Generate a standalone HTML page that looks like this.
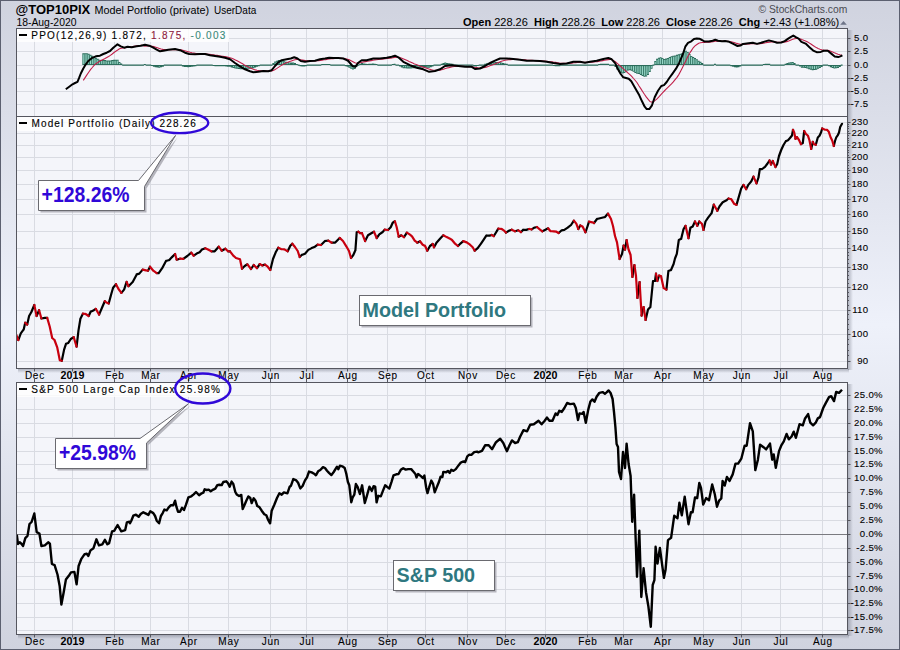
<!DOCTYPE html><html><head><meta charset="utf-8"><style>
html,body{margin:0;padding:0}
body{width:900px;height:650px;overflow:hidden;background:linear-gradient(to bottom,#D0D3DF 0%,#EEF1FA 50%,#D0D3DF 100%);font-family:"Liberation Sans",sans-serif;position:relative}
#fr{position:absolute;left:0;top:0;width:898px;height:648px;border:1px solid #5C6070}
svg{position:absolute;left:0;top:0}
svg text{font-family:"Liberation Sans",sans-serif;white-space:pre}
</style></head><body><div id="fr"></div>
<svg width="900" height="650" viewBox="0 0 900 650">
<defs><clipPath id="c2"><rect x="17" y="117" width="830" height="251"/></clipPath><clipPath id="c3"><rect x="17" y="383" width="830" height="251"/></clipPath><linearGradient id="shR" x1="0" x2="1" y1="0" y2="0"><stop offset="0" stop-color="#7E8290" stop-opacity="0.55"/><stop offset="1" stop-color="#7E8290" stop-opacity="0"/></linearGradient>
<linearGradient id="shB" x1="0" x2="0" y1="0" y2="1"><stop offset="0" stop-color="#7E8290" stop-opacity="0.55"/><stop offset="1" stop-color="#7E8290" stop-opacity="0"/></linearGradient></defs>
<rect x="16.5" y="28.5" width="831" height="88" fill="#F4F5FA"/><rect x="16.5" y="116.5" width="831" height="252" fill="#F4F5FA"/><rect x="16.5" y="382.5" width="831" height="252" fill="#F4F5FA"/><line x1="34.5" y1="28" x2="34.5" y2="116" stroke="#D9DBE2"/><line x1="34.5" y1="116" x2="34.5" y2="368" stroke="#D9DBE2"/><line x1="34.5" y1="382" x2="34.5" y2="634" stroke="#D9DBE2"/><line x1="72.5" y1="28" x2="72.5" y2="116" stroke="#D9DBE2"/><line x1="72.5" y1="116" x2="72.5" y2="368" stroke="#D9DBE2"/><line x1="72.5" y1="382" x2="72.5" y2="634" stroke="#D9DBE2"/><line x1="114.5" y1="28" x2="114.5" y2="116" stroke="#D9DBE2"/><line x1="114.5" y1="116" x2="114.5" y2="368" stroke="#D9DBE2"/><line x1="114.5" y1="382" x2="114.5" y2="634" stroke="#D9DBE2"/><line x1="150.5" y1="28" x2="150.5" y2="116" stroke="#D9DBE2"/><line x1="150.5" y1="116" x2="150.5" y2="368" stroke="#D9DBE2"/><line x1="150.5" y1="382" x2="150.5" y2="634" stroke="#D9DBE2"/><line x1="188.5" y1="28" x2="188.5" y2="116" stroke="#D9DBE2"/><line x1="188.5" y1="116" x2="188.5" y2="368" stroke="#D9DBE2"/><line x1="188.5" y1="382" x2="188.5" y2="634" stroke="#D9DBE2"/><line x1="228.5" y1="28" x2="228.5" y2="116" stroke="#D9DBE2"/><line x1="228.5" y1="116" x2="228.5" y2="368" stroke="#D9DBE2"/><line x1="228.5" y1="382" x2="228.5" y2="634" stroke="#D9DBE2"/><line x1="270.5" y1="28" x2="270.5" y2="116" stroke="#D9DBE2"/><line x1="270.5" y1="116" x2="270.5" y2="368" stroke="#D9DBE2"/><line x1="270.5" y1="382" x2="270.5" y2="634" stroke="#D9DBE2"/><line x1="306.5" y1="28" x2="306.5" y2="116" stroke="#D9DBE2"/><line x1="306.5" y1="116" x2="306.5" y2="368" stroke="#D9DBE2"/><line x1="306.5" y1="382" x2="306.5" y2="634" stroke="#D9DBE2"/><line x1="347.5" y1="28" x2="347.5" y2="116" stroke="#D9DBE2"/><line x1="347.5" y1="116" x2="347.5" y2="368" stroke="#D9DBE2"/><line x1="347.5" y1="382" x2="347.5" y2="634" stroke="#D9DBE2"/><line x1="387.5" y1="28" x2="387.5" y2="116" stroke="#D9DBE2"/><line x1="387.5" y1="116" x2="387.5" y2="368" stroke="#D9DBE2"/><line x1="387.5" y1="382" x2="387.5" y2="634" stroke="#D9DBE2"/><line x1="425.5" y1="28" x2="425.5" y2="116" stroke="#D9DBE2"/><line x1="425.5" y1="116" x2="425.5" y2="368" stroke="#D9DBE2"/><line x1="425.5" y1="382" x2="425.5" y2="634" stroke="#D9DBE2"/><line x1="467.5" y1="28" x2="467.5" y2="116" stroke="#D9DBE2"/><line x1="467.5" y1="116" x2="467.5" y2="368" stroke="#D9DBE2"/><line x1="467.5" y1="382" x2="467.5" y2="634" stroke="#D9DBE2"/><line x1="505.5" y1="28" x2="505.5" y2="116" stroke="#D9DBE2"/><line x1="505.5" y1="116" x2="505.5" y2="368" stroke="#D9DBE2"/><line x1="505.5" y1="382" x2="505.5" y2="634" stroke="#D9DBE2"/><line x1="545.5" y1="28" x2="545.5" y2="116" stroke="#D9DBE2"/><line x1="545.5" y1="116" x2="545.5" y2="368" stroke="#D9DBE2"/><line x1="545.5" y1="382" x2="545.5" y2="634" stroke="#D9DBE2"/><line x1="587.5" y1="28" x2="587.5" y2="116" stroke="#D9DBE2"/><line x1="587.5" y1="116" x2="587.5" y2="368" stroke="#D9DBE2"/><line x1="587.5" y1="382" x2="587.5" y2="634" stroke="#D9DBE2"/><line x1="623.5" y1="28" x2="623.5" y2="116" stroke="#D9DBE2"/><line x1="623.5" y1="116" x2="623.5" y2="368" stroke="#D9DBE2"/><line x1="623.5" y1="382" x2="623.5" y2="634" stroke="#D9DBE2"/><line x1="662.5" y1="28" x2="662.5" y2="116" stroke="#D9DBE2"/><line x1="662.5" y1="116" x2="662.5" y2="368" stroke="#D9DBE2"/><line x1="662.5" y1="382" x2="662.5" y2="634" stroke="#D9DBE2"/><line x1="703.5" y1="28" x2="703.5" y2="116" stroke="#D9DBE2"/><line x1="703.5" y1="116" x2="703.5" y2="368" stroke="#D9DBE2"/><line x1="703.5" y1="382" x2="703.5" y2="634" stroke="#D9DBE2"/><line x1="741.5" y1="28" x2="741.5" y2="116" stroke="#D9DBE2"/><line x1="741.5" y1="116" x2="741.5" y2="368" stroke="#D9DBE2"/><line x1="741.5" y1="382" x2="741.5" y2="634" stroke="#D9DBE2"/><line x1="780.5" y1="28" x2="780.5" y2="116" stroke="#D9DBE2"/><line x1="780.5" y1="116" x2="780.5" y2="368" stroke="#D9DBE2"/><line x1="780.5" y1="382" x2="780.5" y2="634" stroke="#D9DBE2"/><line x1="822.5" y1="28" x2="822.5" y2="116" stroke="#D9DBE2"/><line x1="822.5" y1="116" x2="822.5" y2="368" stroke="#D9DBE2"/><line x1="822.5" y1="382" x2="822.5" y2="634" stroke="#D9DBE2"/><line x1="16" y1="38.5" x2="847" y2="38.5" stroke="#D9DBE2"/><line x1="16" y1="51.5" x2="847" y2="51.5" stroke="#D9DBE2"/><line x1="16" y1="65.5" x2="847" y2="65.5" stroke="#D9DBE2"/><line x1="16" y1="78.5" x2="847" y2="78.5" stroke="#D9DBE2"/><line x1="16" y1="91.5" x2="847" y2="91.5" stroke="#D9DBE2"/><line x1="16" y1="104.5" x2="847" y2="104.5" stroke="#D9DBE2"/><line x1="16" y1="122.5" x2="847" y2="122.5" stroke="#D9DBE2"/><line x1="16" y1="133.5" x2="847" y2="133.5" stroke="#D9DBE2"/><line x1="16" y1="145.5" x2="847" y2="145.5" stroke="#D9DBE2"/><line x1="16" y1="157.5" x2="847" y2="157.5" stroke="#D9DBE2"/><line x1="16" y1="170.5" x2="847" y2="170.5" stroke="#D9DBE2"/><line x1="16" y1="184.5" x2="847" y2="184.5" stroke="#D9DBE2"/><line x1="16" y1="199.5" x2="847" y2="199.5" stroke="#D9DBE2"/><line x1="16" y1="214.5" x2="847" y2="214.5" stroke="#D9DBE2"/><line x1="16" y1="231.5" x2="847" y2="231.5" stroke="#D9DBE2"/><line x1="16" y1="248.5" x2="847" y2="248.5" stroke="#D9DBE2"/><line x1="16" y1="267.5" x2="847" y2="267.5" stroke="#D9DBE2"/><line x1="16" y1="287.5" x2="847" y2="287.5" stroke="#D9DBE2"/><line x1="16" y1="310.5" x2="847" y2="310.5" stroke="#D9DBE2"/><line x1="16" y1="334.5" x2="847" y2="334.5" stroke="#D9DBE2"/><line x1="16" y1="361.5" x2="847" y2="361.5" stroke="#D9DBE2"/><line x1="16" y1="630.5" x2="847" y2="630.5" stroke="#D9DBE2"/><line x1="16" y1="617.5" x2="847" y2="617.5" stroke="#D9DBE2"/><line x1="16" y1="603.5" x2="847" y2="603.5" stroke="#D9DBE2"/><line x1="16" y1="589.5" x2="847" y2="589.5" stroke="#D9DBE2"/><line x1="16" y1="576.5" x2="847" y2="576.5" stroke="#D9DBE2"/><line x1="16" y1="562.5" x2="847" y2="562.5" stroke="#D9DBE2"/><line x1="16" y1="548.5" x2="847" y2="548.5" stroke="#D9DBE2"/><line x1="16" y1="534.5" x2="847" y2="534.5" stroke="#7A7A80"/><line x1="16" y1="520.5" x2="847" y2="520.5" stroke="#D9DBE2"/><line x1="16" y1="506.5" x2="847" y2="506.5" stroke="#D9DBE2"/><line x1="16" y1="492.5" x2="847" y2="492.5" stroke="#D9DBE2"/><line x1="16" y1="478.5" x2="847" y2="478.5" stroke="#D9DBE2"/><line x1="16" y1="464.5" x2="847" y2="464.5" stroke="#D9DBE2"/><line x1="16" y1="451.5" x2="847" y2="451.5" stroke="#D9DBE2"/><line x1="16" y1="437.5" x2="847" y2="437.5" stroke="#D9DBE2"/><line x1="16" y1="423.5" x2="847" y2="423.5" stroke="#D9DBE2"/><line x1="16" y1="409.5" x2="847" y2="409.5" stroke="#D9DBE2"/><line x1="16" y1="395.5" x2="847" y2="395.5" stroke="#D9DBE2"/><path d="M82.32 53.33H84.22V65.10H82.32ZM84.13 53.13H86.03V65.10H84.13ZM85.94 53.20H87.84V65.10H85.94ZM87.75 53.74H89.65V65.10H87.75ZM89.56 54.80H91.46V65.10H89.56ZM91.37 55.68H93.27V65.10H91.37ZM93.18 56.98H95.08V65.10H93.18ZM94.99 57.83H96.89V65.10H94.99ZM96.80 58.77H98.70V65.10H96.80ZM98.61 59.71H100.51V65.10H98.61ZM100.42 59.92H102.32V65.10H100.42ZM102.23 59.89H104.13V65.10H102.23ZM104.04 60.09H105.94V65.10H104.04ZM105.85 60.40H107.75V65.10H105.85ZM107.66 60.49H109.56V65.10H107.66ZM109.47 60.46H111.37V65.10H109.47ZM111.28 60.07H113.18V65.10H111.28ZM113.09 59.82H114.99V65.10H113.09ZM114.90 59.67H116.80V65.10H114.90ZM116.71 59.63H118.61V65.10H116.71ZM118.52 61.92H120.42V65.10H118.52ZM120.33 63.47H122.23V65.10H120.33ZM122.14 64.50H124.04V65.70H122.14ZM123.95 64.50H125.85V65.70H123.95ZM125.76 64.50H127.66V65.70H125.76ZM127.57 64.50H129.47V65.70H127.57ZM129.38 64.50H131.28V65.70H129.38ZM131.19 64.50H133.09V65.70H131.19ZM133.00 64.50H134.90V65.70H133.00ZM134.81 64.50H136.71V65.70H134.81ZM136.62 64.50H138.52V65.70H136.62ZM138.43 64.50H140.33V65.70H138.43ZM140.24 64.50H142.14V65.70H140.24ZM142.05 64.50H143.95V65.70H142.05ZM143.86 63.96H145.76V65.10H143.86ZM145.67 64.50H147.57V65.70H145.67ZM147.48 64.50H149.38V65.70H147.48ZM149.29 64.50H151.19V65.70H149.29ZM151.10 65.10H153.00V66.11H151.10ZM152.91 65.10H154.81V66.66H152.91ZM154.72 65.10H156.62V67.19H154.72ZM156.53 65.10H158.43V67.56H156.53ZM158.34 65.10H160.24V67.77H158.34ZM160.15 65.10H162.05V67.35H160.15ZM161.96 65.10H163.86V66.64H161.96ZM163.77 64.50H165.67V65.70H163.77ZM165.58 64.50H167.48V65.70H165.58ZM167.39 64.50H169.29V65.70H167.39ZM169.20 64.50H171.10V65.70H169.20ZM171.01 64.50H172.91V65.70H171.01ZM172.82 64.50H174.72V65.70H172.82ZM174.63 64.50H176.53V65.70H174.63ZM176.44 64.50H178.34V65.70H176.44ZM178.25 64.50H180.15V65.70H178.25ZM180.06 64.50H181.96V65.70H180.06ZM181.87 65.10H183.77V66.56H181.87ZM183.68 65.10H185.58V66.99H183.68ZM185.49 65.10H187.39V67.12H185.49ZM187.30 65.10H189.20V67.16H187.30ZM189.11 65.10H191.01V67.02H189.11ZM190.92 65.10H192.82V66.71H190.92ZM192.73 65.10H194.63V66.46H192.73ZM194.54 65.10H196.44V66.22H194.54ZM196.35 64.50H198.25V65.70H196.35ZM198.16 64.50H200.06V65.70H198.16ZM199.97 64.50H201.87V65.70H199.97ZM201.78 64.50H203.68V65.70H201.78ZM203.59 64.50H205.49V65.70H203.59ZM205.40 64.50H207.30V65.70H205.40ZM207.21 64.50H209.11V65.70H207.21ZM209.02 64.50H210.92V65.70H209.02ZM210.83 64.50H212.73V65.70H210.83ZM212.64 65.10H214.54V66.11H212.64ZM214.45 65.10H216.35V66.14H214.45ZM216.26 65.10H218.16V66.16H216.26ZM218.07 65.10H219.97V66.18H218.07ZM219.88 65.10H221.78V66.21H219.88ZM221.69 65.10H223.59V66.25H221.69ZM223.50 65.10H225.40V66.28H223.50ZM225.31 65.10H227.21V66.44H225.31ZM227.12 65.10H229.02V66.63H227.12ZM228.93 65.10H230.83V66.79H228.93ZM230.74 65.10H232.64V67.48H230.74ZM232.55 65.10H234.45V68.07H232.55ZM234.36 65.10H236.26V68.52H234.36ZM236.17 65.10H238.07V68.79H236.17ZM237.98 65.10H239.88V69.01H237.98ZM239.79 65.10H241.69V69.14H239.79ZM241.60 65.10H243.50V69.20H241.60ZM243.41 65.10H245.31V69.24H243.41ZM245.22 65.10H247.12V69.09H245.22ZM247.03 65.10H248.93V68.87H247.03ZM248.84 65.10H250.74V68.70H248.84ZM250.65 65.10H252.55V68.43H250.65ZM252.46 65.10H254.36V68.17H252.46ZM254.27 65.10H256.17V67.41H254.27ZM256.08 65.10H257.98V66.80H256.08ZM257.89 65.10H259.79V66.29H257.89ZM259.70 64.50H261.60V65.70H259.70ZM261.51 64.50H263.41V65.70H261.51ZM263.32 64.50H265.22V65.70H263.32ZM265.13 64.50H267.03V65.70H265.13ZM266.94 64.50H268.84V65.70H266.94ZM268.75 64.50H270.65V65.70H268.75ZM270.56 64.50H272.46V65.70H270.56ZM272.37 62.97H274.27V65.10H272.37ZM274.18 61.57H276.08V65.10H274.18ZM275.99 60.66H277.89V65.10H275.99ZM277.80 60.11H279.70V65.10H277.80ZM279.61 60.22H281.51V65.10H279.61ZM281.42 60.54H283.32V65.10H281.42ZM283.23 61.19H285.13V65.10H283.23ZM285.04 61.71H286.94V65.10H285.04ZM286.85 62.12H288.75V65.10H286.85ZM288.66 62.43H290.56V65.10H288.66ZM290.47 62.61H292.37V65.10H290.47ZM292.28 62.60H294.18V65.10H292.28ZM294.09 63.07H295.99V65.10H294.09ZM295.90 64.00H297.80V65.10H295.90ZM297.71 64.50H299.61V65.70H297.71ZM299.52 65.10H301.42V66.20H299.52ZM301.33 65.10H303.23V66.40H301.33ZM303.14 65.10H305.04V66.42H303.14ZM304.95 65.10H306.85V66.18H304.95ZM306.76 64.50H308.66V65.70H306.76ZM308.57 64.50H310.47V65.70H308.57ZM310.38 64.50H312.28V65.70H310.38ZM312.19 64.50H314.09V65.70H312.19ZM314.00 64.50H315.90V65.70H314.00ZM315.81 64.50H317.71V65.70H315.81ZM317.62 64.50H319.52V65.70H317.62ZM319.43 64.50H321.33V65.70H319.43ZM321.24 64.08H323.14V65.10H321.24ZM323.05 64.05H324.95V65.10H323.05ZM324.86 64.01H326.76V65.10H324.86ZM326.67 63.95H328.57V65.10H326.67ZM328.48 63.96H330.38V65.10H328.48ZM330.29 64.50H332.19V65.70H330.29ZM332.10 64.50H334.00V65.70H332.10ZM333.91 64.50H335.81V65.70H333.91ZM335.72 64.50H337.62V65.70H335.72ZM337.53 64.50H339.43V65.70H337.53ZM339.34 64.50H341.24V65.70H339.34ZM341.15 64.50H343.05V65.70H341.15ZM342.96 64.50H344.86V65.70H342.96ZM344.77 65.10H346.67V66.15H344.77ZM346.58 65.10H348.48V66.66H346.58ZM348.39 65.10H350.29V67.65H348.39ZM350.20 65.10H352.10V68.85H350.20ZM352.01 65.10H353.91V69.49H352.01ZM353.82 65.10H355.72V69.02H353.82ZM355.63 65.10H357.53V66.96H355.63ZM357.44 64.50H359.34V65.70H357.44ZM359.25 63.69H361.15V65.10H359.25ZM361.06 63.09H362.96V65.10H361.06ZM362.87 63.50H364.77V65.10H362.87ZM364.68 63.82H366.58V65.10H364.68ZM366.49 63.92H368.39V65.10H366.49ZM368.30 63.79H370.20V65.10H368.30ZM370.11 63.68H372.01V65.10H370.11ZM371.92 63.59H373.82V65.10H371.92ZM373.73 63.80H375.63V65.10H373.73ZM375.54 64.06H377.44V65.10H375.54ZM377.35 64.50H379.25V65.70H377.35ZM379.16 64.50H381.06V65.70H379.16ZM380.97 64.50H382.87V65.70H380.97ZM382.78 64.50H384.68V65.70H382.78ZM384.59 64.50H386.49V65.70H384.59ZM386.40 64.50H388.30V65.70H386.40ZM388.21 64.50H390.11V65.70H388.21ZM390.02 64.50H391.92V65.70H390.02ZM391.83 63.92H393.73V65.10H391.83ZM393.64 63.67H395.54V65.10H393.64ZM395.45 64.50H397.35V65.70H395.45ZM397.26 64.50H399.16V65.70H397.26ZM399.07 65.10H400.97V66.47H399.07ZM400.88 65.10H402.78V67.50H400.88ZM402.69 65.10H404.59V68.21H402.69ZM404.50 65.10H406.40V68.32H404.50ZM406.31 65.10H408.21V68.41H406.31ZM408.12 65.10H410.02V68.48H408.12ZM409.93 65.10H411.83V68.44H409.93ZM411.74 65.10H413.64V68.31H411.74ZM413.55 65.10H415.45V68.21H413.55ZM415.36 65.10H417.26V68.12H415.36ZM417.17 65.10H419.07V67.91H417.17ZM418.98 65.10H420.88V67.70H418.98ZM420.79 65.10H422.69V67.53H420.79ZM422.60 65.10H424.50V67.43H422.60ZM424.41 65.10H426.31V67.57H424.41ZM426.22 65.10H428.12V67.69H426.22ZM428.03 65.10H429.93V67.78H428.03ZM429.84 65.10H431.74V67.15H429.84ZM431.65 65.10H433.55V66.54H431.65ZM433.46 64.50H435.36V65.70H433.46ZM435.27 64.50H437.17V65.70H435.27ZM437.08 64.50H438.98V65.70H437.08ZM438.89 64.50H440.79V65.70H438.89ZM440.70 63.67H442.60V65.10H440.70ZM442.51 63.00H444.41V65.10H442.51ZM444.32 62.59H446.22V65.10H444.32ZM446.13 62.92H448.03V65.10H446.13ZM447.94 63.18H449.84V65.10H447.94ZM449.75 63.39H451.65V65.10H449.75ZM451.56 63.72H453.46V65.10H451.56ZM453.37 64.50H455.27V65.70H453.37ZM455.18 64.50H457.08V65.70H455.18ZM456.99 64.50H458.89V65.70H456.99ZM458.80 64.50H460.70V65.70H458.80ZM460.61 64.50H462.51V65.70H460.61ZM462.42 64.50H464.32V65.70H462.42ZM464.23 64.50H466.13V65.70H464.23ZM466.04 64.50H467.94V65.70H466.04ZM467.85 64.50H469.75V65.70H467.85ZM469.66 64.50H471.56V65.70H469.66ZM471.47 64.50H473.37V65.70H471.47ZM473.28 65.10H475.18V66.49H473.28ZM475.09 65.10H476.99V66.54H475.09ZM476.90 65.10H478.80V66.11H476.90ZM478.71 64.50H480.61V65.70H478.71ZM480.52 64.50H482.42V65.70H480.52ZM482.33 64.50H484.23V65.70H482.33ZM484.14 63.74H486.04V65.10H484.14ZM485.95 63.15H487.85V65.10H485.95ZM487.76 62.67H489.66V65.10H487.76ZM489.57 62.35H491.47V65.10H489.57ZM491.38 62.24H493.28V65.10H491.38ZM493.19 62.15H495.09V65.10H493.19ZM495.00 62.09H496.90V65.10H495.00ZM496.81 62.06H498.71V65.10H496.81ZM498.62 62.03H500.52V65.10H498.62ZM500.43 62.49H502.33V65.10H500.43ZM502.24 63.01H504.14V65.10H502.24ZM504.05 63.43H505.95V65.10H504.05ZM505.86 63.77H507.76V65.10H505.86ZM507.67 64.50H509.57V65.70H507.67ZM509.48 64.50H511.38V65.70H509.48ZM511.29 64.50H513.19V65.70H511.29ZM513.10 64.50H515.00V65.70H513.10ZM514.91 64.50H516.81V65.70H514.91ZM516.72 64.50H518.62V65.70H516.72ZM518.53 64.50H520.43V65.70H518.53ZM520.34 64.50H522.24V65.70H520.34ZM522.15 64.50H524.05V65.70H522.15ZM523.96 64.50H525.86V65.70H523.96ZM525.77 64.50H527.67V65.70H525.77ZM527.58 64.50H529.48V65.70H527.58ZM529.39 64.50H531.29V65.70H529.39ZM531.20 64.50H533.10V65.70H531.20ZM533.01 64.50H534.91V65.70H533.01ZM534.82 64.50H536.72V65.70H534.82ZM536.63 64.50H538.53V65.70H536.63ZM538.44 64.50H540.34V65.70H538.44ZM540.25 64.50H542.15V65.70H540.25ZM542.06 64.50H543.96V65.70H542.06ZM543.87 64.50H545.77V65.70H543.87ZM545.68 64.50H547.58V65.70H545.68ZM547.49 64.50H549.39V65.70H547.49ZM549.30 64.50H551.20V65.70H549.30ZM551.11 64.50H553.01V65.70H551.11ZM552.92 65.10H554.82V66.11H552.92ZM554.73 65.10H556.63V66.13H554.73ZM556.54 65.10H558.44V66.14H556.54ZM558.35 65.10H560.25V66.14H558.35ZM560.16 64.50H562.06V65.70H560.16ZM561.97 64.50H563.87V65.70H561.97ZM563.78 64.50H565.68V65.70H563.78ZM565.59 64.50H567.49V65.70H565.59ZM567.40 64.50H569.30V65.70H567.40ZM569.21 64.50H571.11V65.70H569.21ZM571.02 64.50H572.92V65.70H571.02ZM572.83 64.50H574.73V65.70H572.83ZM574.64 64.50H576.54V65.70H574.64ZM576.45 64.50H578.35V65.70H576.45ZM578.26 64.50H580.16V65.70H578.26ZM580.07 64.50H581.97V65.70H580.07ZM581.88 64.50H583.78V65.70H581.88ZM583.69 64.50H585.59V65.70H583.69ZM585.50 64.50H587.40V65.70H585.50ZM587.31 64.50H589.21V65.70H587.31ZM589.12 64.50H591.02V65.70H589.12ZM590.93 64.50H592.83V65.70H590.93ZM592.74 64.50H594.64V65.70H592.74ZM594.55 64.50H596.45V65.70H594.55ZM596.36 64.50H598.26V65.70H596.36ZM598.17 64.00H600.07V65.10H598.17ZM599.98 63.85H601.88V65.10H599.98ZM601.79 63.73H603.69V65.10H601.79ZM603.60 63.69H605.50V65.10H603.60ZM605.41 63.68H607.31V65.10H605.41ZM607.22 63.68H609.12V65.10H607.22ZM609.03 64.50H610.93V65.70H609.03ZM610.84 64.50H612.74V65.70H610.84ZM612.65 64.50H614.55V65.70H612.65ZM614.46 65.10H616.36V67.05H614.46ZM616.27 65.10H618.17V69.45H616.27ZM618.08 65.10H619.98V71.35H618.08ZM619.89 65.10H621.79V72.81H619.89ZM621.70 65.10H623.60V73.43H621.70ZM623.51 65.10H625.41V72.88H623.51ZM625.32 65.10H627.22V71.68H625.32ZM627.13 65.10H629.03V70.54H627.13ZM628.94 65.10H630.84V70.28H628.94ZM630.75 65.10H632.65V70.69H630.75ZM632.56 65.10H634.46V71.82H632.56ZM634.37 65.10H636.27V72.94H634.37ZM636.18 65.10H638.08V73.86H636.18ZM637.99 65.10H639.89V74.07H637.99ZM639.80 65.10H641.70V74.95H639.80ZM641.61 65.10H643.51V75.94H641.61ZM643.42 65.10H645.32V76.83H643.42ZM645.23 65.10H647.13V76.59H645.23ZM647.04 65.10H648.94V75.00H647.04ZM648.85 65.10H650.75V72.08H648.85ZM650.66 65.10H652.56V68.82H650.66ZM652.47 64.50H654.37V65.70H652.47ZM654.28 60.88H656.18V65.10H654.28ZM656.09 58.80H657.99V65.10H656.09ZM657.90 57.73H659.80V65.10H657.90ZM659.71 57.21H661.61V65.10H659.71ZM661.52 57.90H663.42V65.10H661.52ZM663.33 58.88H665.23V65.10H663.33ZM665.14 58.62H667.04V65.10H665.14ZM666.95 57.89H668.85V65.10H666.95ZM668.76 56.95H670.66V65.10H668.76ZM670.57 56.24H672.47V65.10H670.57ZM672.38 55.69H674.28V65.10H672.38ZM674.19 55.46H676.09V65.10H674.19ZM676.00 54.84H677.90V65.10H676.00ZM677.81 54.32H679.71V65.10H677.81ZM679.62 53.78H681.52V65.10H679.62ZM681.43 52.95H683.33V65.10H681.43ZM683.24 51.23H685.14V65.10H683.24ZM685.05 50.64H686.95V65.10H685.05ZM686.86 51.89H688.76V65.10H686.86ZM688.67 54.09H690.57V65.10H688.67ZM690.48 55.89H692.38V65.10H690.48ZM692.29 57.02H694.19V65.10H692.29ZM694.10 58.10H696.00V65.10H694.10ZM695.91 59.18H697.81V65.10H695.91ZM697.72 60.75H699.62V65.10H697.72ZM699.53 61.85H701.43V65.10H699.53ZM701.34 62.92H703.24V65.10H701.34ZM703.15 64.50H705.05V65.70H703.15ZM704.96 64.50H706.86V65.70H704.96ZM706.77 64.50H708.67V65.70H706.77ZM708.58 64.50H710.48V65.70H708.58ZM710.39 64.50H712.29V65.70H710.39ZM712.20 64.50H714.10V65.70H712.20ZM714.01 63.79H715.91V65.10H714.01ZM715.82 64.50H717.72V65.70H715.82ZM717.63 64.50H719.53V65.70H717.63ZM719.44 64.50H721.34V65.70H719.44ZM721.25 64.50H723.15V65.70H721.25ZM723.06 64.50H724.96V65.70H723.06ZM724.87 64.50H726.77V65.70H724.87ZM726.68 64.50H728.58V65.70H726.68ZM728.49 64.50H730.39V65.70H728.49ZM730.30 65.10H732.20V66.31H730.30ZM732.11 65.10H734.01V66.81H732.11ZM733.92 65.10H735.82V67.19H733.92ZM735.73 65.10H737.63V67.49H735.73ZM737.54 65.10H739.44V67.23H737.54ZM739.35 65.10H741.25V66.60H739.35ZM741.16 64.50H743.06V65.70H741.16ZM742.97 64.50H744.87V65.70H742.97ZM744.78 64.50H746.68V65.70H744.78ZM746.59 64.50H748.49V65.70H746.59ZM748.40 64.50H750.30V65.70H748.40ZM750.21 64.50H752.11V65.70H750.21ZM752.02 64.50H753.92V65.70H752.02ZM753.83 64.50H755.73V65.70H753.83ZM755.64 64.50H757.54V65.70H755.64ZM757.45 64.50H759.35V65.70H757.45ZM759.26 64.50H761.16V65.70H759.26ZM761.07 64.50H762.97V65.70H761.07ZM762.88 64.04H764.78V65.10H762.88ZM764.69 63.79H766.59V65.10H764.69ZM766.50 63.64H768.40V65.10H766.50ZM768.31 63.71H770.21V65.10H768.31ZM770.12 64.50H772.02V65.70H770.12ZM771.93 64.50H773.83V65.70H771.93ZM773.74 64.50H775.64V65.70H773.74ZM775.55 64.50H777.45V65.70H775.55ZM777.36 64.50H779.26V65.70H777.36ZM779.17 64.50H781.07V65.70H779.17ZM780.98 64.50H782.88V65.70H780.98ZM782.79 64.50H784.69V65.70H782.79ZM784.60 63.86H786.50V65.10H784.60ZM786.41 63.08H788.31V65.10H786.41ZM788.22 62.54H790.12V65.10H788.22ZM790.03 62.17H791.93V65.10H790.03ZM791.84 61.94H793.74V65.10H791.84ZM793.65 63.01H795.55V65.10H793.65ZM795.46 64.50H797.36V65.70H795.46ZM797.27 64.50H799.17V65.70H797.27ZM799.08 65.10H800.98V66.61H799.08ZM800.89 65.10H802.79V67.70H800.89ZM802.70 65.10H804.60V67.80H802.70ZM804.51 65.10H806.41V67.88H804.51ZM806.32 65.10H808.22V68.60H806.32ZM808.13 65.10H810.03V69.24H808.13ZM809.94 65.10H811.84V69.74H809.94ZM811.75 65.10H813.65V70.13H811.75ZM813.56 65.10H815.46V69.97H813.56ZM815.37 65.10H817.27V69.65H815.37ZM817.18 65.10H819.08V68.80H817.18ZM818.99 65.10H820.89V67.95H818.99ZM820.80 65.10H822.70V67.03H820.80ZM822.61 64.50H824.51V65.70H822.61ZM824.42 64.50H826.32V65.70H824.42ZM826.23 64.50H828.13V65.70H826.23ZM828.04 65.10H829.94V66.35H828.04ZM829.85 65.10H831.75V67.26H829.85ZM831.66 65.10H833.56V68.00H831.66ZM833.47 65.10H835.37V68.61H833.47ZM835.28 65.10H837.18V68.34H835.28ZM837.09 65.10H838.99V67.98H837.09ZM838.90 65.10H840.80V66.99H838.90ZM840.71 64.50H842.61V65.70H840.71Z" fill="#2A6B5A"/><path d="M83.27 54.33V64.10M85.08 54.13V64.10M86.89 54.20V64.10M88.70 54.74V64.10M90.51 55.80V64.10M92.32 56.68V64.10M94.13 57.98V64.10M95.94 58.83V64.10M97.75 59.77V64.10M99.56 60.71V64.10M101.37 60.92V64.10M103.18 60.89V64.10M104.99 61.09V64.10M106.80 61.40V64.10M108.61 61.49V64.10M110.42 61.46V64.10M112.23 61.07V64.10M114.04 60.82V64.10M115.85 60.67V64.10M117.66 60.63V64.10M119.47 62.92V64.10M159.29 66.10V66.77M233.50 66.10V67.07M235.31 66.10V67.52M237.12 66.10V67.79M238.93 66.10V68.01M240.74 66.10V68.14M242.55 66.10V68.20M244.36 66.10V68.24M246.17 66.10V68.09M247.98 66.10V67.87M249.79 66.10V67.70M251.60 66.10V67.43M253.41 66.10V67.17M275.13 62.57V64.10M276.94 61.66V64.10M278.75 61.11V64.10M280.56 61.22V64.10M282.37 61.54V64.10M284.18 62.19V64.10M285.99 62.71V64.10M287.80 63.12V64.10M289.61 63.43V64.10M293.23 63.60V64.10M349.34 66.10V66.65M351.15 66.10V67.85M352.96 66.10V68.49M354.77 66.10V68.02M403.64 66.10V67.21M405.45 66.10V67.32M407.26 66.10V67.41M409.07 66.10V67.48M410.88 66.10V67.44M412.69 66.10V67.31M414.50 66.10V67.21M416.31 66.10V67.12M418.12 66.10V66.91M419.93 66.10V66.70M427.17 66.10V66.69M428.98 66.10V66.78M445.27 63.59V64.10M490.52 63.35V64.10M492.33 63.24V64.10M494.14 63.15V64.10M495.95 63.09V64.10M497.76 63.06V64.10M499.57 63.03V64.10M501.38 63.49V64.10M617.22 66.10V68.45M619.03 66.10V70.35M620.84 66.10V71.81M622.65 66.10V72.43M624.46 66.10V71.88M626.27 66.10V70.68M628.08 66.10V69.54M629.89 66.10V69.28M631.70 66.10V69.69M633.51 66.10V70.82M635.32 66.10V71.94M637.13 66.10V72.86M638.94 66.10V73.07M640.75 66.10V73.95M642.56 66.10V74.94M644.37 66.10V75.83M646.18 66.10V75.59M647.99 66.10V74.00M649.80 66.10V71.08M651.61 66.10V67.82M655.23 61.88V64.10M657.04 59.80V64.10M658.85 58.73V64.10M660.66 58.21V64.10M662.47 58.90V64.10M664.28 59.88V64.10M666.09 59.62V64.10M667.90 58.89V64.10M669.71 57.95V64.10M671.52 57.24V64.10M673.33 56.69V64.10M675.14 56.46V64.10M676.95 55.84V64.10M678.76 55.32V64.10M680.57 54.78V64.10M682.38 53.95V64.10M684.19 52.23V64.10M686.00 51.64V64.10M687.81 52.89V64.10M689.62 55.09V64.10M691.43 56.89V64.10M693.24 58.02V64.10M695.05 59.10V64.10M696.86 60.18V64.10M698.67 61.75V64.10M700.48 62.85V64.10M789.17 63.54V64.10M790.98 63.17V64.10M792.79 62.94V64.10M801.84 66.10V66.70M803.65 66.10V66.80M805.46 66.10V66.88M807.27 66.10V67.60M809.08 66.10V68.24M810.89 66.10V68.74M812.70 66.10V69.13M814.51 66.10V68.97M816.32 66.10V68.65M818.13 66.10V67.80M819.94 66.10V66.95M832.61 66.10V67.00M834.42 66.10V67.61M836.23 66.10V67.34M838.04 66.10V66.98" stroke="#9ADACA" stroke-width="1" fill="none"/><polyline points="83.3,80.4 85.1,77.6 86.9,74.9 88.7,72.2 90.5,69.6 92.3,67.5 94.1,65.3 95.9,63.7 97.8,62.5 99.6,61.3 101.4,60.3 103.2,59.4 105.0,58.5 106.8,57.5 108.6,56.5 110.4,55.4 112.2,54.0 114.0,52.5 115.8,51.2 117.7,50.0 119.5,48.8 121.3,48.3 123.1,48.0 124.9,47.7 126.7,47.5 128.5,47.2 130.3,47.0 132.1,46.7 133.9,46.4 135.8,46.1 137.6,45.8 139.4,45.5 141.2,45.3 143.0,45.7 144.8,46.1 146.6,46.0 148.4,45.9 150.2,46.0 152.1,46.2 153.9,46.6 155.7,47.2 157.5,47.8 159.3,48.4 161.1,49.0 162.9,49.4 164.7,49.6 166.5,49.7 168.3,49.8 170.2,49.7 172.0,49.7 173.8,49.6 175.6,49.5 177.4,49.6 179.2,49.7 181.0,49.9 182.8,50.3 184.6,50.8 186.4,51.3 188.2,51.8 190.1,52.3 191.9,52.7 193.7,53.0 195.5,53.3 197.3,53.5 199.1,53.6 200.9,53.7 202.7,53.8 204.5,53.9 206.4,54.0 208.2,54.2 210.0,54.4 211.8,54.7 213.6,54.9 215.4,55.2 217.2,55.4 219.0,55.7 220.8,56.0 222.6,56.3 224.5,56.6 226.3,56.9 228.1,57.3 229.9,57.7 231.7,58.3 233.5,59.0 235.3,59.9 237.1,60.8 238.9,61.8 240.7,62.8 242.6,63.8 244.4,64.9 246.2,65.9 248.0,66.8 249.8,67.7 251.6,68.5 253.4,69.3 255.2,69.9 257.0,70.3 258.8,70.6 260.6,70.8 262.5,70.9 264.3,70.9 266.1,71.0 267.9,71.1 269.7,71.0 271.5,70.9 273.3,70.4 275.1,69.5 276.9,68.4 278.8,67.1 280.6,65.9 282.4,64.8 284.2,63.8 286.0,62.9 287.8,62.2 289.6,61.5 291.4,60.9 293.2,60.3 295.0,59.8 296.8,59.5 298.7,59.5 300.5,59.8 302.3,60.1 304.1,60.4 305.9,60.7 307.7,60.8 309.5,60.9 311.3,60.9 313.1,60.9 314.9,60.9 316.8,60.8 318.6,60.6 320.4,60.4 322.2,60.1 324.0,59.8 325.8,59.6 327.6,59.3 329.4,59.0 331.2,58.8 333.1,58.7 334.9,58.5 336.7,58.5 338.5,58.4 340.3,58.4 342.1,58.4 343.9,58.5 345.7,58.8 347.5,59.2 349.3,59.8 351.1,60.7 353.0,61.8 354.8,62.8 356.6,63.3 358.4,63.2 360.2,62.8 362.0,62.3 363.8,61.9 365.6,61.6 367.4,61.3 369.2,61.0 371.1,60.6 372.9,60.2 374.7,59.9 376.5,59.7 378.3,59.5 380.1,59.3 381.9,59.1 383.7,58.9 385.5,58.7 387.3,58.5 389.2,58.3 391.0,58.1 392.8,57.8 394.6,57.4 396.4,57.2 398.2,57.3 400.0,57.6 401.8,58.2 403.6,59.0 405.4,59.8 407.3,60.6 409.1,61.5 410.9,62.3 412.7,63.1 414.5,63.9 416.3,64.6 418.1,65.3 419.9,66.0 421.7,66.6 423.6,67.2 425.4,67.8 427.2,68.4 429.0,69.1 430.8,69.6 432.6,70.0 434.4,70.2 436.2,70.3 438.0,70.2 439.8,70.1 441.6,69.7 443.5,69.2 445.3,68.6 447.1,68.0 448.9,67.6 450.7,67.1 452.5,66.8 454.3,66.5 456.1,66.4 457.9,66.3 459.8,66.3 461.6,66.4 463.4,66.4 465.2,66.5 467.0,66.6 468.8,66.7 470.6,66.7 472.4,66.8 474.2,67.2 476.0,67.5 477.8,67.8 479.7,68.0 481.5,67.9 483.3,67.7 485.1,67.4 486.9,66.9 488.7,66.3 490.5,65.6 492.3,64.9 494.1,64.2 495.9,63.4 497.8,62.7 499.6,61.9 501.4,61.2 503.2,60.7 505.0,60.3 506.8,60.0 508.6,59.7 510.4,59.6 512.2,59.5 514.1,59.4 515.9,59.4 517.7,59.4 519.5,59.5 521.3,59.6 523.1,59.7 524.9,59.9 526.7,60.1 528.5,60.2 530.3,60.3 532.1,60.4 534.0,60.5 535.8,60.6 537.6,60.7 539.4,60.8 541.2,60.9 543.0,61.0 544.8,61.1 546.6,61.3 548.4,61.5 550.2,61.7 552.1,61.9 553.9,62.2 555.7,62.4 557.5,62.7 559.3,63.0 561.1,63.2 562.9,63.3 564.7,63.4 566.5,63.4 568.4,63.4 570.2,63.3 572.0,63.1 573.8,62.8 575.6,62.6 577.4,62.5 579.2,62.4 581.0,62.3 582.8,62.3 584.6,62.4 586.5,62.4 588.3,62.4 590.1,62.3 591.9,62.2 593.7,62.0 595.5,61.8 597.3,61.6 599.1,61.3 600.9,61.0 602.7,60.6 604.5,60.3 606.4,59.9 608.2,59.6 610.0,59.4 611.8,59.5 613.6,60.6 615.4,61.7 617.2,63.3 619.0,64.9 620.8,66.5 622.6,68.2 624.5,69.9 626.3,71.5 628.1,73.1 629.9,74.7 631.7,76.4 633.5,78.5 635.3,80.5 637.1,82.7 638.9,85.7 640.8,88.6 642.6,91.5 644.4,94.3 646.2,96.9 648.0,99.1 649.8,101.4 651.6,102.1 653.4,101.8 655.2,100.4 657.0,98.9 658.9,96.9 660.7,94.8 662.5,92.8 664.3,91.0 666.1,89.2 667.9,87.4 669.7,85.6 671.5,83.9 673.3,81.9 675.1,79.6 677.0,77.3 678.8,74.6 680.6,71.2 682.4,67.7 684.2,64.1 686.0,60.4 687.8,56.6 689.6,53.3 691.4,50.6 693.2,47.8 695.0,45.9 696.9,44.5 698.7,43.2 700.5,42.7 702.3,42.5 704.1,42.4 705.9,42.3 707.7,42.2 709.5,42.1 711.3,41.9 713.1,41.7 715.0,41.3 716.8,41.2 718.6,41.1 720.4,41.1 722.2,41.2 724.0,41.2 725.8,41.3 727.6,41.4 729.4,41.5 731.2,41.8 733.1,42.2 734.9,42.8 736.7,43.4 738.5,43.9 740.3,44.3 742.1,44.4 743.9,44.3 745.7,44.2 747.5,44.0 749.4,43.9 751.2,43.7 753.0,43.6 754.8,43.6 756.6,43.7 758.4,43.7 760.2,43.6 762.0,43.4 763.8,43.1 765.6,42.8 767.5,42.4 769.3,42.1 771.1,41.9 772.9,41.8 774.7,41.9 776.5,42.1 778.3,42.2 780.1,42.4 781.9,42.4 783.7,42.2 785.5,41.9 787.4,41.4 789.2,40.8 791.0,40.0 792.8,39.3 794.6,38.7 796.4,38.5 798.2,38.5 800.0,38.9 801.8,39.6 803.6,40.2 805.5,40.9 807.3,41.8 809.1,42.9 810.9,44.0 812.7,45.3 814.5,46.5 816.3,47.6 818.1,48.5 819.9,49.3 821.8,49.7 823.6,50.0 825.4,50.2 827.2,50.3 829.0,50.6 830.8,51.2 832.6,51.9 834.4,52.8 836.2,53.6 838.0,54.3 839.9,54.8 841.7,55.0" fill="none" stroke="#C0204A" stroke-width="1.1"/><polyline points="65.8,89.3 69.2,86.8 72.5,84.3 75.0,83.0 77.5,81.8 79.2,77.7 80.8,73.5 83.3,68.5 85.8,64.3 88.3,61.0 91.7,58.2 95.8,56.3 100.0,55.7 103.3,54.0 106.7,52.7 110.0,51.0 113.3,47.7 117.5,44.3 120.8,46.3 124.2,47.7 127.5,46.8 131.7,47.3 136.7,46.3 140.8,45.7 145.0,44.7 149.2,45.7 153.3,47.7 156.7,49.7 160.0,51.3 163.3,50.7 168.3,49.7 175.0,49.0 180.0,50.2 185.0,52.7 189.2,54.0 195.0,54.3 200.0,54.0 205.0,54.0 210.0,55.2 215.0,56.0 220.0,56.8 225.0,57.7 230.0,59.3 235.0,63.0 240.0,66.3 245.0,69.3 250.0,71.3 253.3,72.3 258.3,71.8 263.3,71.0 268.3,71.3 271.7,70.2 275.0,66.0 278.3,62.3 281.7,60.2 286.7,59.3 290.8,58.5 294.2,57.3 297.5,58.5 300.8,61.0 305.0,61.8 310.0,61.0 315.0,60.7 320.0,59.3 325.0,58.5 329.2,57.7 333.3,58.0 338.3,58.0 343.3,58.5 346.7,60.2 348.3,61.0 352.5,66.0 355.3,66.8 358.3,62.7 361.7,60.2 366.7,60.2 373.3,58.5 380.0,58.5 386.7,57.7 391.7,56.8 395.0,55.7 398.3,57.3 403.3,61.8 410.0,65.2 416.7,67.7 423.3,69.3 429.2,71.8 435.0,71.0 440.0,69.3 445.0,66.0 451.7,65.2 458.3,66.0 465.0,66.8 471.7,66.8 475.0,69.0 480.0,68.5 485.0,66.0 490.0,63.0 495.0,60.7 500.0,58.5 506.7,58.5 513.3,59.0 520.0,59.7 526.7,60.7 533.3,60.7 540.0,61.0 546.7,61.8 553.3,63.0 560.0,64.0 566.7,63.5 573.3,61.8 580.0,61.8 585.0,62.7 590.0,61.8 596.7,60.7 603.3,59.0 608.3,58.0 611.7,59.3 615.3,63.3 618.0,69.3 620.7,74.0 623.3,77.3 626.0,78.0 628.7,78.7 631.3,81.3 634.0,86.0 636.7,90.7 639.3,95.3 642.0,101.3 644.7,106.7 646.7,109.1 649.3,109.1 652.0,105.3 654.7,97.3 658.0,90.7 661.3,86.0 664.0,85.1 666.7,82.0 669.3,78.0 672.7,73.3 676.0,68.7 679.3,62.7 682.7,54.7 685.3,46.7 688.0,42.9 691.3,41.3 694.0,38.9 696.7,38.4 699.3,38.7 702.0,40.0 704.7,41.6 708.7,41.6 712.7,40.7 715.3,39.7 718.0,40.7 722.0,41.3 725.0,41.1 729.2,41.8 733.3,43.9 737.5,46.0 740.3,45.6 743.1,43.9 748.6,43.2 752.8,42.8 757.0,43.9 761.1,42.8 765.3,41.4 768.8,40.4 772.9,41.4 777.1,42.8 781.3,42.5 784.7,41.1 788.2,38.6 791.0,36.9 793.3,35.6 795.8,37.2 798.6,38.6 801.4,41.8 805.6,43.6 809.7,47.4 813.2,50.6 816.7,52.2 820.8,51.9 823.6,50.8 827.8,50.8 831.3,53.6 834.7,56.4 838.2,57.1 840.3,56.4 842.4,55.4" fill="none" stroke="#000" stroke-width="2" stroke-linejoin="round"/><g clip-path="url(#c2)"><path d="M18.3 340.0L20.8 333.3M20.8 333.3L23.7 329.4M23.7 329.4L25.2 322.7M27.2 324.6L29.1 316.0M29.1 316.0L31.4 312.0M31.4 312.0L34.3 305.0M36.6 316.0L39.1 310.2M41.4 318.5L44.8 317.9M44.8 317.9L47.2 317.9M61.8 360.8L64.1 349.6M64.1 349.6L66.0 343.8M66.0 343.8L68.3 342.9M68.3 342.9L70.8 339.0M70.8 339.0L73.7 337.1M76.6 346.7L78.5 330.4M78.5 330.4L80.4 318.8M80.4 318.8L82.9 313.7M88.7 316.0L90.6 311.7M90.6 311.7L93.9 310.2M93.9 310.2L95.8 308.8M99.1 314.6L102.2 307.3M102.2 307.3L104.8 301.2M108.7 303.5L111.2 294.2M111.2 294.2L113.1 287.7M113.1 287.7L116.0 284.2M121.4 292.9L124.1 289.6M124.1 289.6L126.6 281.9M128.5 286.2L130.0 284.7M130.0 284.7L132.7 282.0M132.7 282.0L136.7 274.4M136.7 274.4L139.3 273.6M139.3 273.6L142.7 269.6M148.0 270.7L150.0 266.7M156.7 273.1L158.7 273.1M158.7 273.1L162.7 267.3M162.7 267.3L166.0 261.0M166.0 261.0L169.3 260.0M169.3 260.0L172.0 257.1M172.0 257.1L175.1 254.0M176.7 259.7L180.0 258.7M183.3 258.9L187.3 256.0M187.3 256.0L191.3 252.7M193.7 255.7L196.7 253.6M196.7 253.6L199.6 252.3M199.6 252.3L202.0 249.6M202.0 249.6L205.3 248.3M211.3 251.3L214.7 251.3M214.7 251.3L218.7 246.7M221.7 250.7L225.3 248.7M228.0 251.3L230.0 251.3M242.0 268.7L244.7 266.0M244.7 266.0L247.4 264.3M251.0 269.0L253.7 265.0M257.0 268.1L259.7 264.1M262.3 265.4L265.0 264.6M270.3 270.0L273.0 259.0M273.0 259.0L275.7 252.3M275.7 252.3L278.3 247.7M287.7 251.3L290.3 245.7M290.3 245.7L292.3 243.7M299.7 257.0L301.7 255.0M301.7 255.0L305.0 253.7M305.0 253.7L308.3 249.9M308.3 249.9L311.7 248.1M311.7 248.1L315.0 246.7M315.0 246.7L317.7 244.6M321.0 245.0L325.0 241.0M325.0 241.0L328.3 240.6M331.7 242.7L335.0 242.7M335.0 242.7L339.7 237.9M351.0 258.0L353.3 255.0M353.3 255.0L355.4 250.3M355.4 250.3L356.7 232.3M356.7 232.3L358.3 231.7M360.0 233.1L362.0 233.1M365.1 241.1L368.0 235.3M368.0 235.3L371.3 233.3M371.3 233.3L374.0 231.7M376.7 238.0L379.3 234.4M379.3 234.4L382.7 232.0M382.7 232.0L384.7 229.6M388.0 230.0L390.7 227.3M390.7 227.3L392.7 222.7M392.7 222.7L394.9 221.3M398.7 236.7L401.3 235.3M404.0 237.1L406.9 232.7M417.3 242.7L420.0 241.3M427.3 250.7L430.0 246.0M430.0 246.0L432.7 244.0M434.0 247.3L436.7 242.4M436.7 242.4L440.0 238.7M440.0 238.7L443.3 235.3M458.0 246.0L460.7 243.3M460.7 243.3L463.3 241.1M474.7 250.7L477.7 248.1M477.7 248.1L481.0 243.7M481.0 243.7L483.7 239.7M483.7 239.7L486.3 235.7M486.3 235.7L489.7 235.7M489.7 235.7L491.7 235.0M493.7 236.1L495.7 233.0M495.7 233.0L498.3 228.6M505.9 232.6L509.0 230.7M509.0 230.7L511.7 229.7M515.0 231.3L518.3 230.3M521.0 232.1L523.0 229.9M523.0 229.9L526.3 229.9M526.3 229.9L529.0 229.0M531.7 229.4L534.3 227.7M534.3 227.7L537.0 227.0M542.3 231.3L545.0 229.9M545.0 229.9L548.1 228.3M558.7 233.0L561.7 230.3M561.7 230.3L564.3 229.9M564.3 229.9L567.7 227.7M567.7 227.7L571.0 225.0M571.0 225.0L573.9 220.6M578.3 229.0L580.3 225.4M585.4 232.3L587.3 227.0M587.3 227.0L589.0 221.7M594.0 223.0L597.0 219.0M597.0 219.0L601.0 218.0M601.0 218.0L605.0 217.0M605.0 217.0L608.0 213.6M619.6 259.0L622.0 254.0M622.0 254.0L623.6 245.6M625.0 249.6L626.6 240.0M632.4 277.0L634.4 265.0M637.4 298.0L639.6 282.0M641.6 315.6L643.6 307.0M645.6 320.0L648.0 309.6M648.0 309.6L650.4 307.0M650.4 307.0L653.0 281.0M653.0 281.0L655.0 281.0M655.0 281.0L656.0 273.6M657.4 281.0L659.0 275.6M666.4 289.6L668.4 271.0M668.4 271.0L671.0 270.0M671.0 270.0L673.6 264.0M673.6 264.0L675.0 258.5M675.0 258.5L676.8 253.8M676.8 253.8L678.8 240.0M678.8 240.0L681.2 238.8M681.2 238.8L683.5 229.2M683.5 229.2L685.5 225.8M688.5 238.2L690.4 227.7M690.4 227.7L692.7 226.5M692.7 226.5L695.0 221.5M697.3 225.8L699.3 221.5M703.5 230.0L705.5 221.5M705.5 221.5L708.1 217.7M708.1 217.7L711.6 213.1M711.6 213.1L713.8 204.6M717.3 210.8L719.6 206.2M719.6 206.2L722.7 202.3M722.7 202.3L726.5 200.3M726.5 200.3L728.5 198.5M736.5 204.9L738.8 196.9M738.8 196.9L741.2 188.5M741.2 188.5L743.5 184.9M746.1 189.2L748.5 184.6M748.5 184.6L751.2 181.5M751.2 181.5L753.5 176.6M756.5 183.4L758.5 177.5M758.5 177.5L759.8 169.2M759.8 169.2L762.2 169.0M762.2 169.0L765.0 166.8M765.0 166.8L767.5 163.5M767.5 163.5L769.5 160.5M771.0 164.5L772.8 161.0M775.5 167.0L777.2 164.0M777.2 164.0L779.0 156.0M779.0 156.0L781.2 150.0M781.2 150.0L783.5 145.0M783.5 145.0L785.8 141.2M785.8 141.2L788.0 140.2M788.0 140.2L790.0 138.0M790.0 138.0L792.0 135.5M792.0 135.5L793.0 129.8M795.5 138.8L797.0 137.2M801.0 144.2L802.8 143.0M802.8 143.0L804.2 131.0M811.2 149.0L812.8 141.8M815.8 144.8L817.8 137.5M817.8 137.5L819.5 135.8M819.5 135.8L821.0 132.5M821.0 132.5L822.2 128.5M833.8 146.0L835.0 141.0M835.0 141.0L836.2 137.5M836.2 137.5L838.0 134.8M838.0 134.8L839.0 132.5M839.0 132.5L840.2 127.0M840.2 127.0L842.0 123.8" stroke="#000" stroke-width="2.2" fill="none" stroke-linecap="round" stroke-linejoin="round"/><path d="M16.0 334.2L18.3 340.0M25.2 322.7L27.2 324.6M34.3 305.0L36.6 316.0M39.1 310.2L41.4 318.5M47.2 317.9L49.7 326.5M49.7 326.5L52.2 338.0M52.2 338.0L54.5 340.0M54.5 340.0L57.3 347.7M57.3 347.7L59.8 360.2M59.8 360.2L61.8 360.8M73.7 337.1L76.6 346.7M82.9 313.7L85.6 314.0M85.6 314.0L88.7 316.0M95.8 308.8L99.1 314.6M104.8 301.2L106.4 302.5M106.4 302.5L108.7 303.5M116.0 284.2L118.5 289.0M118.5 289.0L121.4 292.9M126.6 281.9L128.5 286.2M142.7 269.6L146.0 270.4M146.0 270.4L148.0 270.7M150.0 266.7L153.3 270.7M153.3 270.7L156.7 273.1M175.1 254.0L176.7 259.7M180.0 258.7L183.3 258.9M191.3 252.7L193.7 255.7M205.3 248.3L208.0 249.6M208.0 249.6L211.3 251.3M218.7 246.7L221.7 250.7M225.3 248.7L228.0 251.3M230.0 251.3L233.3 255.7M233.3 255.7L236.0 258.0M236.0 258.0L240.0 259.3M240.0 259.3L242.0 268.7M247.4 264.3L251.0 269.0M253.7 265.0L257.0 268.1M259.7 264.1L262.3 265.4M265.0 264.6L267.7 266.7M267.7 266.7L270.3 270.0M278.3 247.7L281.0 249.0M281.0 249.0L284.3 249.4M284.3 249.4L287.7 251.3M292.3 243.7L295.0 247.0M295.0 247.0L297.7 251.0M297.7 251.0L299.7 257.0M317.7 244.6L321.0 245.0M328.3 240.6L331.7 242.7M339.7 237.9L343.0 241.0M343.0 241.0L346.3 246.3M346.3 246.3L349.0 251.0M349.0 251.0L351.0 258.0M358.3 231.7L360.0 233.1M362.0 233.1L365.1 241.1M374.0 231.7L376.7 238.0M384.7 229.6L388.0 230.0M394.9 221.3L396.7 227.3M396.7 227.3L398.7 236.7M401.3 235.3L404.0 237.1M406.9 232.7L410.0 234.7M410.0 234.7L412.0 236.3M412.0 236.3L414.7 240.7M414.7 240.7L417.3 242.7M420.0 241.3L422.7 244.7M422.7 244.7L425.1 246.0M425.1 246.0L427.3 250.7M432.7 244.0L434.0 247.3M443.3 235.3L446.7 237.1M446.7 237.1L450.0 238.7M450.0 238.7L452.0 240.0M452.0 240.0L454.7 243.3M454.7 243.3L458.0 246.0M463.3 241.1L466.7 242.4M466.7 242.4L470.0 244.7M470.0 244.7L472.7 247.3M472.7 247.3L474.7 250.7M491.7 235.0L493.7 236.1M498.3 228.6L501.7 229.0M501.7 229.0L503.7 230.3M503.7 230.3L505.9 232.6M511.7 229.7L515.0 231.3M518.3 230.3L521.0 232.1M529.0 229.0L531.7 229.4M537.0 227.0L539.7 229.4M539.7 229.4L542.3 231.3M548.1 228.3L550.3 231.0M550.3 231.0L553.7 231.3M553.7 231.3L556.3 231.7M556.3 231.7L558.7 233.0M573.9 220.6L576.3 223.7M576.3 223.7L578.3 229.0M580.3 225.4L582.7 226.7M582.7 226.7L585.4 232.3M589.0 221.7L592.3 222.3M592.3 222.3L594.0 223.0M608.0 213.6L611.0 219.0M611.0 219.0L613.0 226.0M613.0 226.0L615.0 236.0M615.0 236.0L617.0 242.4M617.0 242.4L619.6 259.0M623.6 245.6L625.0 249.6M626.6 240.0L628.4 249.0M628.4 249.0L630.6 255.0M630.6 255.0L632.4 277.0M634.4 265.0L636.0 276.0M636.0 276.0L637.4 298.0M639.6 282.0L641.6 315.6M643.6 307.0L645.6 320.0M656.0 273.6L657.4 281.0M659.0 275.6L661.0 276.0M661.0 276.0L663.6 288.0M663.6 288.0L666.4 289.6M685.5 225.8L688.5 238.2M695.0 221.5L697.3 225.8M699.3 221.5L701.9 223.8M701.9 223.8L703.5 230.0M713.8 204.6L717.3 210.8M728.5 198.5L731.2 199.2M731.2 199.2L734.2 203.8M734.2 203.8L736.5 204.9M743.5 184.9L746.1 189.2M753.5 176.6L756.5 183.4M769.5 160.5L771.0 164.5M772.8 161.0L774.0 163.8M774.0 163.8L775.5 167.0M793.0 129.8L794.2 132.5M794.2 132.5L795.5 138.8M797.0 137.2L799.0 140.0M799.0 140.0L801.0 144.2M804.2 131.0L806.0 134.0M806.0 134.0L808.0 135.8M808.0 135.8L809.5 140.5M809.5 140.5L811.2 149.0M812.8 141.8L814.0 144.2M814.0 144.2L815.8 144.8M822.2 128.5L824.5 129.5M824.5 129.5L827.0 129.8M827.0 129.8L828.8 131.8M828.8 131.8L830.5 137.0M830.5 137.0L832.2 140.5M832.2 140.5L833.8 146.0" stroke="#C8000F" stroke-width="2.2" fill="none" stroke-linecap="round" stroke-linejoin="round"/></g><polyline clip-path="url(#c3)" points="16.8,534.7 18.0,544.0 19.7,542.3 21.4,543.7 23.1,546.0 25.3,538.1 27.5,535.9 29.5,524.0 31.6,522.0 34.3,513.5 36.7,532.2 39.4,533.5 41.4,546.0 44.8,545.4 48.2,542.3 49.9,543.7 51.9,564.0 54.6,565.2 57.5,574.5 59.7,586.3 61.4,604.6 63.7,592.2 65.9,579.6 68.8,575.8 71.0,572.4 74.4,571.9 76.6,584.3 78.6,566.0 81.2,559.2 84.6,554.2 86.8,553.8 88.4,555.9 90.5,550.4 93.5,548.2 96.4,539.3 98.9,545.4 102.3,544.3 104.9,539.8 107.4,544.3 109.1,543.2 112.1,531.3 114.2,530.8 117.6,525.0 121.3,531.3 125.2,530.1 126.9,522.3 129.4,521.7 130.0,523.3 131.3,520.7 133.3,515.7 136.0,514.7 138.7,516.7 140.7,514.0 143.3,512.3 146.0,513.6 148.4,514.9 150.3,511.3 153.3,513.1 155.1,516.0 156.7,520.7 159.1,523.3 160.9,516.0 162.7,513.1 164.4,509.6 166.7,510.4 168.7,507.3 170.7,505.3 173.3,505.3 175.1,500.7 176.4,506.7 178.0,511.7 180.0,511.7 182.0,507.7 184.0,510.0 186.0,504.7 188.4,497.3 191.3,496.3 193.7,494.4 196.0,492.0 199.1,495.3 201.7,493.3 203.3,492.7 204.7,489.3 206.7,490.0 208.7,489.6 210.7,491.3 213.3,489.6 215.3,488.7 217.3,485.1 219.3,484.7 221.7,485.1 223.3,482.0 226.3,481.3 228.0,483.3 229.7,486.7 231.6,481.6 233.3,484.0 235.3,492.0 236.7,494.4 239.1,496.0 241.3,494.9 242.7,509.1 244.4,505.3 246.3,500.7 248.3,496.4 250.3,498.0 251.7,503.1 253.7,498.3 255.4,500.4 257.3,506.0 259.4,507.1 261.7,510.7 264.3,514.3 266.3,515.3 267.9,519.3 270.1,523.3 271.7,510.7 274.3,504.7 277.0,498.0 279.4,493.3 281.7,494.7 283.9,492.4 287.4,493.3 289.7,486.7 291.0,485.7 293.3,479.1 296.3,480.4 298.1,482.7 300.3,488.4 302.6,486.0 305.0,480.4 307.0,477.3 309.0,471.6 311.7,472.4 314.1,473.7 315.9,475.3 318.1,471.3 320.3,470.0 323.0,467.1 325.0,468.0 327.0,470.7 329.0,472.9 331.4,475.1 333.7,472.0 335.9,468.4 337.0,466.7 338.3,469.3 339.9,465.7 342.3,466.3 344.7,468.0 346.3,473.7 347.9,482.0 349.3,485.3 351.3,502.3 352.7,497.3 354.3,494.7 355.9,484.0 357.7,487.1 359.9,494.0 362.1,485.3 364.8,503.0 366.6,496.8 369.4,486.7 371.8,490.9 373.6,486.2 375.2,486.7 376.6,502.4 378.3,495.8 380.8,496.4 383.3,489.9 385.2,485.3 387.4,487.1 389.3,488.5 391.6,481.6 393.5,475.4 396.3,474.3 398.5,474.0 400.8,469.8 403.2,468.2 405.7,469.6 408.2,469.1 411.2,469.1 413.3,471.5 415.4,474.0 416.5,477.4 418.1,474.0 420.9,476.1 423.0,478.1 424.4,475.6 426.2,487.8 427.5,493.1 429.2,487.1 431.3,480.6 433.1,483.9 434.7,492.2 436.8,487.1 438.9,482.0 440.6,476.7 442.4,477.0 443.3,471.9 446.1,472.3 447.9,470.9 449.7,472.9 451.3,469.8 453.4,470.9 455.8,469.1 458.5,465.4 460.8,462.6 463.1,461.5 465.2,462.2 467.3,456.3 469.3,454.6 471.4,454.9 474.2,452.1 477.0,451.6 478.1,452.3 482.0,450.8 485.1,445.3 488.7,445.3 492.1,449.2 496.0,442.2 500.2,438.8 503.3,443.0 506.9,451.2 509.5,445.3 512.0,440.4 515.1,443.0 517.8,442.2 520.1,436.8 523.5,430.1 527.1,431.3 530.2,424.8 533.8,424.3 538.5,420.8 541.6,424.3 544.7,420.8 546.9,417.6 549.4,420.8 552.5,420.8 555.6,413.4 557.4,415.0 559.3,410.8 561.8,411.9 564.4,408.0 567.1,403.0 570.2,404.1 573.8,403.6 575.8,408.0 578.0,420.1 579.5,413.4 582.3,413.9 583.6,411.9 585.8,422.8 588.2,409.9 590.4,401.5 592.4,399.4 594.5,401.8 596.6,396.8 599.4,392.8 602.6,392.1 604.9,393.7 606.6,392.4 608.6,390.4 610.6,393.0 612.6,399.0 614.0,412.0 615.4,427.0 616.6,444.0 618.0,447.0 619.0,472.0 621.0,479.0 623.0,452.0 625.0,468.0 626.6,443.6 628.6,464.0 630.6,476.0 632.2,521.8 634.1,494.8 637.0,576.7 639.3,530.6 641.3,597.0 643.6,568.3 646.0,592.2 648.4,606.5 650.8,626.8 652.7,585.0 654.4,580.2 655.6,546.8 657.5,563.5 659.9,548.0 663.9,577.9 665.6,569.5 668.0,540.1 671.1,537.8 674.2,515.8 677.5,518.2 679.4,502.7 681.8,515.3 684.7,496.7 688.5,524.2 690.9,512.2 692.6,512.2 695.0,497.5 697.2,498.1 699.3,483.0 701.0,487.8 703.2,504.6 706.2,498.1 709.0,500.3 712.2,484.5 714.8,494.2 717.0,506.7 719.1,500.7 721.3,498.5 722.6,480.9 724.7,485.6 726.9,477.0 729.5,480.9 732.7,474.4 735.5,463.6 738.1,463.6 741.3,458.7 744.6,445.7 746.7,445.7 750.0,423.1 752.8,431.3 755.3,470.1 757.9,459.7 760.1,444.7 763.5,447.2 766.1,449.4 770.0,443.6 772.2,459.7 773.7,454.4 775.8,467.9 779.0,451.1 781.2,445.7 783.8,441.4 786.6,433.9 788.8,439.3 791.6,436.5 793.7,431.7 795.9,437.8 799.5,424.2 802.8,425.3 804.9,418.8 808.1,414.1 810.3,422.7 813.1,425.3 815.7,422.7 817.8,418.4 820.0,417.1 823.2,408.0 826.0,402.6 829.0,397.2 831.2,396.2 834.0,401.1 836.2,391.9 839.0,392.9 842.0,389.7" fill="none" stroke="#000" stroke-width="2.4" stroke-linejoin="round"/><rect x="848" y="30" width="5" height="340" fill="url(#shR)"/><rect x="848" y="384" width="5" height="252" fill="url(#shR)"/><rect x="18" y="369" width="831" height="4" fill="url(#shB)"/><rect x="18" y="635" width="831" height="4" fill="url(#shB)"/><path d="M847 38.5H850.5M847 51.5H850.5M847 65.5H850.5M847 78.5H850.5M847 91.5H850.5M847 104.5H850.5M847 122.5H850.5M847 133.5H850.5M847 145.5H850.5M847 157.5H850.5M847 170.5H850.5M847 184.5H850.5M847 199.5H850.5M847 214.5H850.5M847 231.5H850.5M847 248.5H850.5M847 267.5H850.5M847 287.5H850.5M847 310.5H850.5M847 334.5H850.5M847 361.5H850.5M847 630.5H850.5M847 617.5H850.5M847 603.5H850.5M847 589.5H850.5M847 576.5H850.5M847 562.5H850.5M847 548.5H850.5M847 534.5H850.5M847 520.5H850.5M847 506.5H850.5M847 492.5H850.5M847 478.5H850.5M847 464.5H850.5M847 451.5H850.5M847 437.5H850.5M847 423.5H850.5M847 409.5H850.5M847 395.5H850.5M847 355.5H849M847 350.5H849M847 344.5H849M847 339.5H849M847 329.5H849M847 324.5H849M847 319.5H849M847 314.5H849M847 305.5H849M847 300.5H849M847 296.5H849M847 292.5H849M847 283.5H849M847 279.5H849M847 275.5H849M847 271.5H849M847 263.5H849M847 259.5H849M847 255.5H849M847 252.5H849M847 244.5H849M847 241.5H849M847 237.5H849M847 234.5H849M847 227.5H849M847 224.5H849M847 221.5H849M847 217.5H849M847 211.5H849M847 208.5H849M847 205.5H849M847 202.5H849M847 196.5H849M847 193.5H849M847 190.5H849M847 187.5H849M847 181.5H849M847 178.5H849M847 176.5H849M847 173.5H849M847 168.5H849M847 165.5H849M847 162.5H849M847 160.5H849M847 155.5H849M847 152.5H849M847 150.5H849M847 147.5H849M847 142.5H849M847 140.5H849M847 138.5H849M847 135.5H849M847 131.5H849M847 128.5H849M847 126.5H849M847 124.5H849M34.5 368V371.5M34.5 379V382M34.5 634V637.5M72.5 368V371.5M72.5 379V382M72.5 634V637.5M114.5 368V371.5M114.5 379V382M114.5 634V637.5M150.5 368V371.5M150.5 379V382M150.5 634V637.5M188.5 368V371.5M188.5 379V382M188.5 634V637.5M228.5 368V371.5M228.5 379V382M228.5 634V637.5M270.5 368V371.5M270.5 379V382M270.5 634V637.5M306.5 368V371.5M306.5 379V382M306.5 634V637.5M347.5 368V371.5M347.5 379V382M347.5 634V637.5M387.5 368V371.5M387.5 379V382M387.5 634V637.5M425.5 368V371.5M425.5 379V382M425.5 634V637.5M467.5 368V371.5M467.5 379V382M467.5 634V637.5M505.5 368V371.5M505.5 379V382M505.5 634V637.5M545.5 368V371.5M545.5 379V382M545.5 634V637.5M587.5 368V371.5M587.5 379V382M587.5 634V637.5M623.5 368V371.5M623.5 379V382M623.5 634V637.5M662.5 368V371.5M662.5 379V382M662.5 634V637.5M703.5 368V371.5M703.5 379V382M703.5 634V637.5M741.5 368V371.5M741.5 379V382M741.5 634V637.5M780.5 368V371.5M780.5 379V382M780.5 634V637.5M822.5 368V371.5M822.5 379V382M822.5 634V637.5" stroke="#55565E" stroke-width="1" fill="none"/><path d="M840.2 24.8L843.5 21L846.8 24.8Z" fill="#6E7488"/><rect x="16.5" y="28.5" width="831" height="88" fill="none" stroke="#55565F"/><rect x="16.5" y="116.5" width="831" height="252" fill="none" stroke="#55565F"/><rect x="16.5" y="382.5" width="831" height="252" fill="none" stroke="#55565F"/><rect x="17" y="29" width="212" height="13" fill="#FFFFFF" opacity="0.8"/><rect x="17" y="117" width="183" height="14" fill="#FFFFFF" opacity="0.8"/><rect x="17" y="383" width="207" height="14" fill="#FFFFFF" opacity="0.8"/><rect x="19" y="34" width="8" height="2" fill="#000"/><rect x="19" y="122" width="8" height="2" fill="#000"/><rect x="19" y="388" width="8" height="2" fill="#000"/>
<text x="868.5" y="41.3" font-size="9.6" text-anchor="end" font-weight="normal" fill="#000" letter-spacing="0.35" stroke="#000" stroke-width="0.1">5.0</text><text x="868.5" y="54.3" font-size="9.6" text-anchor="end" font-weight="normal" fill="#000" letter-spacing="0.35" stroke="#000" stroke-width="0.1">2.5</text><text x="868.5" y="68.3" font-size="9.6" text-anchor="end" font-weight="normal" fill="#000" letter-spacing="0.35" stroke="#000" stroke-width="0.1">0.0</text><text x="868.5" y="81.3" font-size="9.6" text-anchor="end" font-weight="normal" fill="#000" letter-spacing="0.35" stroke="#000" stroke-width="0.1">-2.5</text><text x="868.5" y="94.3" font-size="9.6" text-anchor="end" font-weight="normal" fill="#000" letter-spacing="0.35" stroke="#000" stroke-width="0.1">-5.0</text><text x="868.5" y="107.3" font-size="9.6" text-anchor="end" font-weight="normal" fill="#000" letter-spacing="0.35" stroke="#000" stroke-width="0.1">-7.5</text><text x="868.5" y="125.3" font-size="9.6" text-anchor="end" font-weight="normal" fill="#000" letter-spacing="0.35" stroke="#000" stroke-width="0.1">230</text><text x="868.5" y="136.3" font-size="9.6" text-anchor="end" font-weight="normal" fill="#000" letter-spacing="0.35" stroke="#000" stroke-width="0.1">220</text><text x="868.5" y="148.3" font-size="9.6" text-anchor="end" font-weight="normal" fill="#000" letter-spacing="0.35" stroke="#000" stroke-width="0.1">210</text><text x="868.5" y="160.3" font-size="9.6" text-anchor="end" font-weight="normal" fill="#000" letter-spacing="0.35" stroke="#000" stroke-width="0.1">200</text><text x="868.5" y="173.3" font-size="9.6" text-anchor="end" font-weight="normal" fill="#000" letter-spacing="0.35" stroke="#000" stroke-width="0.1">190</text><text x="868.5" y="187.3" font-size="9.6" text-anchor="end" font-weight="normal" fill="#000" letter-spacing="0.35" stroke="#000" stroke-width="0.1">180</text><text x="868.5" y="202.3" font-size="9.6" text-anchor="end" font-weight="normal" fill="#000" letter-spacing="0.35" stroke="#000" stroke-width="0.1">170</text><text x="868.5" y="217.3" font-size="9.6" text-anchor="end" font-weight="normal" fill="#000" letter-spacing="0.35" stroke="#000" stroke-width="0.1">160</text><text x="868.5" y="234.3" font-size="9.6" text-anchor="end" font-weight="normal" fill="#000" letter-spacing="0.35" stroke="#000" stroke-width="0.1">150</text><text x="868.5" y="251.3" font-size="9.6" text-anchor="end" font-weight="normal" fill="#000" letter-spacing="0.35" stroke="#000" stroke-width="0.1">140</text><text x="868.5" y="270.3" font-size="9.6" text-anchor="end" font-weight="normal" fill="#000" letter-spacing="0.35" stroke="#000" stroke-width="0.1">130</text><text x="868.5" y="290.3" font-size="9.6" text-anchor="end" font-weight="normal" fill="#000" letter-spacing="0.35" stroke="#000" stroke-width="0.1">120</text><text x="868.5" y="313.3" font-size="9.6" text-anchor="end" font-weight="normal" fill="#000" letter-spacing="0.35" stroke="#000" stroke-width="0.1">110</text><text x="868.5" y="337.3" font-size="9.6" text-anchor="end" font-weight="normal" fill="#000" letter-spacing="0.35" stroke="#000" stroke-width="0.1">100</text><text x="868.5" y="364.3" font-size="9.6" text-anchor="end" font-weight="normal" fill="#000" letter-spacing="0.35" stroke="#000" stroke-width="0.1">90</text><text x="883" y="633.3" font-size="9.6" text-anchor="end" font-weight="normal" fill="#000" letter-spacing="0.35" stroke="#000" stroke-width="0.1">-17.5%</text><text x="883" y="620.3" font-size="9.6" text-anchor="end" font-weight="normal" fill="#000" letter-spacing="0.35" stroke="#000" stroke-width="0.1">-15.0%</text><text x="883" y="606.3" font-size="9.6" text-anchor="end" font-weight="normal" fill="#000" letter-spacing="0.35" stroke="#000" stroke-width="0.1">-12.5%</text><text x="883" y="592.3" font-size="9.6" text-anchor="end" font-weight="normal" fill="#000" letter-spacing="0.35" stroke="#000" stroke-width="0.1">-10.0%</text><text x="883" y="579.3" font-size="9.6" text-anchor="end" font-weight="normal" fill="#000" letter-spacing="0.35" stroke="#000" stroke-width="0.1">-7.5%</text><text x="883" y="565.3" font-size="9.6" text-anchor="end" font-weight="normal" fill="#000" letter-spacing="0.35" stroke="#000" stroke-width="0.1">-5.0%</text><text x="883" y="551.3" font-size="9.6" text-anchor="end" font-weight="normal" fill="#000" letter-spacing="0.35" stroke="#000" stroke-width="0.1">-2.5%</text><text x="883" y="537.3" font-size="9.6" text-anchor="end" font-weight="normal" fill="#000" letter-spacing="0.35" stroke="#000" stroke-width="0.1">0.0%</text><text x="883" y="523.3" font-size="9.6" text-anchor="end" font-weight="normal" fill="#000" letter-spacing="0.35" stroke="#000" stroke-width="0.1">2.5%</text><text x="883" y="509.3" font-size="9.6" text-anchor="end" font-weight="normal" fill="#000" letter-spacing="0.35" stroke="#000" stroke-width="0.1">5.0%</text><text x="883" y="495.3" font-size="9.6" text-anchor="end" font-weight="normal" fill="#000" letter-spacing="0.35" stroke="#000" stroke-width="0.1">7.5%</text><text x="883" y="481.3" font-size="9.6" text-anchor="end" font-weight="normal" fill="#000" letter-spacing="0.35" stroke="#000" stroke-width="0.1">10.0%</text><text x="883" y="467.3" font-size="9.6" text-anchor="end" font-weight="normal" fill="#000" letter-spacing="0.35" stroke="#000" stroke-width="0.1">12.5%</text><text x="883" y="454.3" font-size="9.6" text-anchor="end" font-weight="normal" fill="#000" letter-spacing="0.35" stroke="#000" stroke-width="0.1">15.0%</text><text x="883" y="440.3" font-size="9.6" text-anchor="end" font-weight="normal" fill="#000" letter-spacing="0.35" stroke="#000" stroke-width="0.1">17.5%</text><text x="883" y="426.3" font-size="9.6" text-anchor="end" font-weight="normal" fill="#000" letter-spacing="0.35" stroke="#000" stroke-width="0.1">20.0%</text><text x="883" y="412.3" font-size="9.6" text-anchor="end" font-weight="normal" fill="#000" letter-spacing="0.35" stroke="#000" stroke-width="0.1">22.5%</text><text x="883" y="398.3" font-size="9.6" text-anchor="end" font-weight="normal" fill="#000" letter-spacing="0.35" stroke="#000" stroke-width="0.1">25.0%</text><text x="34.9" y="378.8" font-size="10" text-anchor="middle" font-weight="normal" fill="#000" letter-spacing="0.75" stroke="#000" stroke-width="0.1">Dec</text><text x="34.9" y="645" font-size="10" text-anchor="middle" font-weight="normal" fill="#000" letter-spacing="0.75" stroke="#000" stroke-width="0.1">Dec</text><text x="72.5" y="378.8" font-size="10.7" text-anchor="middle" font-weight="bold" fill="#000" letter-spacing="0" >2019</text><text x="72.5" y="645" font-size="10.7" text-anchor="middle" font-weight="bold" fill="#000" letter-spacing="0" >2019</text><text x="114.9" y="378.8" font-size="10" text-anchor="middle" font-weight="normal" fill="#000" letter-spacing="0.75" stroke="#000" stroke-width="0.1">Feb</text><text x="114.9" y="645" font-size="10" text-anchor="middle" font-weight="normal" fill="#000" letter-spacing="0.75" stroke="#000" stroke-width="0.1">Feb</text><text x="150.9" y="378.8" font-size="10" text-anchor="middle" font-weight="normal" fill="#000" letter-spacing="0.75" stroke="#000" stroke-width="0.1">Mar</text><text x="150.9" y="645" font-size="10" text-anchor="middle" font-weight="normal" fill="#000" letter-spacing="0.75" stroke="#000" stroke-width="0.1">Mar</text><text x="188.9" y="378.8" font-size="10" text-anchor="middle" font-weight="normal" fill="#000" letter-spacing="0.75" stroke="#000" stroke-width="0.1">Apr</text><text x="188.9" y="645" font-size="10" text-anchor="middle" font-weight="normal" fill="#000" letter-spacing="0.75" stroke="#000" stroke-width="0.1">Apr</text><text x="228.9" y="378.8" font-size="10" text-anchor="middle" font-weight="normal" fill="#000" letter-spacing="0.75" stroke="#000" stroke-width="0.1">May</text><text x="228.9" y="645" font-size="10" text-anchor="middle" font-weight="normal" fill="#000" letter-spacing="0.75" stroke="#000" stroke-width="0.1">May</text><text x="270.9" y="378.8" font-size="10" text-anchor="middle" font-weight="normal" fill="#000" letter-spacing="0.75" stroke="#000" stroke-width="0.1">Jun</text><text x="270.9" y="645" font-size="10" text-anchor="middle" font-weight="normal" fill="#000" letter-spacing="0.75" stroke="#000" stroke-width="0.1">Jun</text><text x="306.9" y="378.8" font-size="10" text-anchor="middle" font-weight="normal" fill="#000" letter-spacing="0.75" stroke="#000" stroke-width="0.1">Jul</text><text x="306.9" y="645" font-size="10" text-anchor="middle" font-weight="normal" fill="#000" letter-spacing="0.75" stroke="#000" stroke-width="0.1">Jul</text><text x="347.9" y="378.8" font-size="10" text-anchor="middle" font-weight="normal" fill="#000" letter-spacing="0.75" stroke="#000" stroke-width="0.1">Aug</text><text x="347.9" y="645" font-size="10" text-anchor="middle" font-weight="normal" fill="#000" letter-spacing="0.75" stroke="#000" stroke-width="0.1">Aug</text><text x="387.9" y="378.8" font-size="10" text-anchor="middle" font-weight="normal" fill="#000" letter-spacing="0.75" stroke="#000" stroke-width="0.1">Sep</text><text x="387.9" y="645" font-size="10" text-anchor="middle" font-weight="normal" fill="#000" letter-spacing="0.75" stroke="#000" stroke-width="0.1">Sep</text><text x="425.9" y="378.8" font-size="10" text-anchor="middle" font-weight="normal" fill="#000" letter-spacing="0.75" stroke="#000" stroke-width="0.1">Oct</text><text x="425.9" y="645" font-size="10" text-anchor="middle" font-weight="normal" fill="#000" letter-spacing="0.75" stroke="#000" stroke-width="0.1">Oct</text><text x="467.9" y="378.8" font-size="10" text-anchor="middle" font-weight="normal" fill="#000" letter-spacing="0.75" stroke="#000" stroke-width="0.1">Nov</text><text x="467.9" y="645" font-size="10" text-anchor="middle" font-weight="normal" fill="#000" letter-spacing="0.75" stroke="#000" stroke-width="0.1">Nov</text><text x="505.9" y="378.8" font-size="10" text-anchor="middle" font-weight="normal" fill="#000" letter-spacing="0.75" stroke="#000" stroke-width="0.1">Dec</text><text x="505.9" y="645" font-size="10" text-anchor="middle" font-weight="normal" fill="#000" letter-spacing="0.75" stroke="#000" stroke-width="0.1">Dec</text><text x="545.5" y="378.8" font-size="10.7" text-anchor="middle" font-weight="bold" fill="#000" letter-spacing="0" >2020</text><text x="545.5" y="645" font-size="10.7" text-anchor="middle" font-weight="bold" fill="#000" letter-spacing="0" >2020</text><text x="587.9" y="378.8" font-size="10" text-anchor="middle" font-weight="normal" fill="#000" letter-spacing="0.75" stroke="#000" stroke-width="0.1">Feb</text><text x="587.9" y="645" font-size="10" text-anchor="middle" font-weight="normal" fill="#000" letter-spacing="0.75" stroke="#000" stroke-width="0.1">Feb</text><text x="623.9" y="378.8" font-size="10" text-anchor="middle" font-weight="normal" fill="#000" letter-spacing="0.75" stroke="#000" stroke-width="0.1">Mar</text><text x="623.9" y="645" font-size="10" text-anchor="middle" font-weight="normal" fill="#000" letter-spacing="0.75" stroke="#000" stroke-width="0.1">Mar</text><text x="662.9" y="378.8" font-size="10" text-anchor="middle" font-weight="normal" fill="#000" letter-spacing="0.75" stroke="#000" stroke-width="0.1">Apr</text><text x="662.9" y="645" font-size="10" text-anchor="middle" font-weight="normal" fill="#000" letter-spacing="0.75" stroke="#000" stroke-width="0.1">Apr</text><text x="703.9" y="378.8" font-size="10" text-anchor="middle" font-weight="normal" fill="#000" letter-spacing="0.75" stroke="#000" stroke-width="0.1">May</text><text x="703.9" y="645" font-size="10" text-anchor="middle" font-weight="normal" fill="#000" letter-spacing="0.75" stroke="#000" stroke-width="0.1">May</text><text x="741.9" y="378.8" font-size="10" text-anchor="middle" font-weight="normal" fill="#000" letter-spacing="0.75" stroke="#000" stroke-width="0.1">Jun</text><text x="741.9" y="645" font-size="10" text-anchor="middle" font-weight="normal" fill="#000" letter-spacing="0.75" stroke="#000" stroke-width="0.1">Jun</text><text x="780.9" y="378.8" font-size="10" text-anchor="middle" font-weight="normal" fill="#000" letter-spacing="0.75" stroke="#000" stroke-width="0.1">Jul</text><text x="780.9" y="645" font-size="10" text-anchor="middle" font-weight="normal" fill="#000" letter-spacing="0.75" stroke="#000" stroke-width="0.1">Jul</text><text x="822.9" y="378.8" font-size="10" text-anchor="middle" font-weight="normal" fill="#000" letter-spacing="0.75" stroke="#000" stroke-width="0.1">Aug</text><text x="822.9" y="645" font-size="10" text-anchor="middle" font-weight="normal" fill="#000" letter-spacing="0.75" stroke="#000" stroke-width="0.1">Aug</text><text x="15.6" y="13.5" font-size="13" text-anchor="start" font-weight="bold" fill="#000" letter-spacing="0" >@TOP10PIX</text><text x="94.5" y="13.5" font-size="10.8" text-anchor="start" font-weight="normal" fill="#000" letter-spacing="0" >Model Portfolio (private)</text><text x="214" y="13.5" font-size="10" text-anchor="start" font-weight="normal" fill="#000" letter-spacing="0" >UserData</text><text x="16.4" y="25.6" font-size="10.4" text-anchor="start" font-weight="normal" fill="#000" letter-spacing="0" >18-Aug-2020</text><text x="847.3" y="13" font-size="10.3" text-anchor="end" font-weight="normal" fill="#4A4A52" letter-spacing="0" >© StockCharts.com</text><text x="463" y="25.5" font-size="11" fill="#000"><tspan font-weight="bold">Open</tspan> 228.26  <tspan font-weight="bold">High</tspan> 228.26  <tspan font-weight="bold">Low</tspan> 228.26  <tspan font-weight="bold">Close</tspan> 228.26  <tspan font-weight="bold">Chg</tspan> +2.43 (+1.08%)</text><text x="31.2" y="39" font-size="10" letter-spacing="1.27" fill="#000" stroke="#000" stroke-width="0.12">PPO(12,26,9) 1.872, <tspan fill="#8E1B3C" stroke="#8E1B3C">1.875,</tspan> <tspan fill="#3A8A7A" stroke="#3A8A7A">-0.003</tspan></text><text x="31.5" y="127" font-size="10" letter-spacing="1.12" fill="#000" stroke="#000" stroke-width="0.12">Model Portfolio (Daily) 228.26</text><text x="31.3" y="393" font-size="10" letter-spacing="1.24" fill="#000" stroke="#000" stroke-width="0.12">S&amp;P 500 Large Cap Index 25.98%</text>
<ellipse cx="179.7" cy="122.8" rx="28.6" ry="10.3" fill="none" stroke="#3008D8" stroke-width="2.4"/><ellipse cx="202.8" cy="388.5" rx="27.6" ry="15" fill="none" stroke="#3008D8" stroke-width="2.4"/><path d="M40.5 182.5H140.5L177.5 137.5L146.5 188.5V212.5H40.5Z" fill="#9A9AA2" opacity="0.7"/><path d="M38.5 180.5H138.5L175.5 135.5L144.5 186.5V210.5H38.5Z" fill="#FFFFFF" stroke="#6A6A70" stroke-width="1"/><text transform="translate(41.6 202.2) scale(0.91 1)" x="0" y="0" font-size="21.3" font-weight="bold" fill="#3008D8">+128.26%</text><path d="M57.5 440.5H142L190.4 405.8L148.5 445V470.5H57.5Z" fill="#9A9AA2" opacity="0.7"/><path d="M55.5 438.5H140L188.4 403.8L146.5 443V468.5H55.5Z" fill="#FFFFFF" stroke="#6A6A70" stroke-width="1"/><text transform="translate(59 459.8) scale(0.91 1)" x="0" y="0" font-size="21.3" font-weight="bold" fill="#3008D8">+25.98%</text><rect x="361.5" y="297.5" width="171.0" height="30.0" fill="#9A9AA2" opacity="0.7"/><rect x="359.5" y="295.5" width="171.0" height="30.0" fill="#FFFFFF" stroke="#6A6A70" stroke-width="1"/><text transform="translate(362.5 316.7) scale(0.94 1)" x="0" y="0" font-size="21" font-weight="bold" fill="#2F7880">Model Portfolio</text><rect x="395.5" y="562.5" width="101.0" height="30.0" fill="#9A9AA2" opacity="0.7"/><rect x="393.5" y="560.5" width="101.0" height="30.0" fill="#FFFFFF" stroke="#6A6A70" stroke-width="1"/><text transform="translate(396.5 581.5) scale(0.94 1)" x="0" y="0" font-size="21" font-weight="bold" fill="#2F7880">S&amp;P 500</text>
</svg></body></html>
